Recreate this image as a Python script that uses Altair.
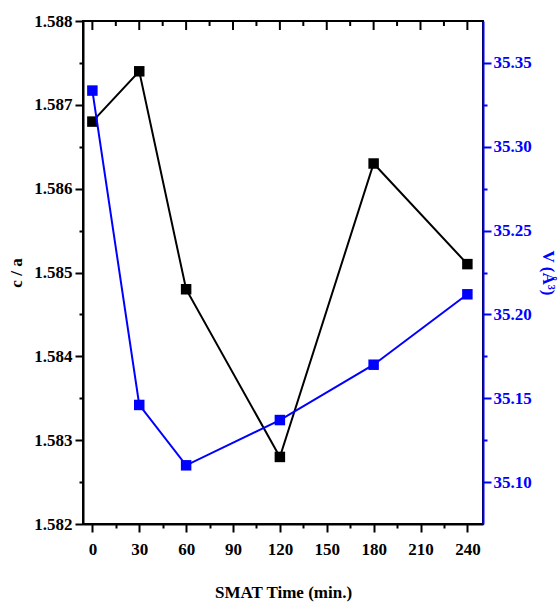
import altair as alt
import pandas as pd

# Data
time_min = [0, 30, 60, 120, 180, 240]
c_over_a = [1.5868, 1.5874, 1.5848, 1.5828, 1.5863, 1.5851]
volume = [35.3335, 35.146, 35.110, 35.137, 35.170, 35.212]

# Axis tick values
x_major = [0, 30, 60, 90, 120, 150, 180, 210, 240]
x_minor = [15, 45, 75, 105, 135, 165, 195, 225]
left_ticks = [1.582, 1.5825, 1.583, 1.5835, 1.584, 1.5845, 1.585, 1.5855,
              1.586, 1.5865, 1.587, 1.5875, 1.588]
right_ticks = [35.10, 35.125, 35.15, 35.175, 35.20, 35.225, 35.25, 35.275,
               35.30, 35.325, 35.35]

df = pd.DataFrame({"t": time_min, "ca": c_over_a, "v": volume})
df_xmaj = pd.DataFrame({"t": x_major})
df_xmin = pd.DataFrame({"t": x_minor})

FONT = "Liberation Serif"
BLUE = "#0000FF"

x_scale = alt.Scale(domain=[-6, 250], nice=False, zero=False)


def x_axis():
    return alt.Axis(
        orient="bottom",
        values=x_major + x_minor,
        labelExpr="datum.value % 30 == 0 ? datum.label : ''",
        tickSize={"condition": {"test": "datum.value % 30 != 0", "value": 4}, "value": 8},
        title="SMAT Time (min.)",
        titlePadding=27,
        labelPadding=9,
        grid=False,
    )


black = alt.Chart(df).mark_line(
    color="black", strokeWidth=2,
    point=alt.OverlayMarkDef(shape="square", size=110, filled=True, color="black", opacity=1),
).encode(
    x=alt.X("t:Q", scale=x_scale, axis=x_axis()),
    y=alt.Y(
        "ca:Q",
        scale=alt.Scale(domain=[1.582, 1.588], nice=False, zero=False),
        axis=alt.Axis(
            orient="left",
            values=left_ticks,
            labelExpr="round(datum.value*2000) % 2 == 0 ? format(datum.value, '.3f') : ''",
            tickSize={"condition": {"test": "round(datum.value*2000) % 2 == 1", "value": 4}, "value": 8},
            title="c / a",
            titlePadding=8,
            labelPadding=3,
            grid=False,
            domainColor="black",
            tickColor="black",
            labelColor="black",
            titleColor="black",
        ),
    ),
)

blue = alt.Chart(df).mark_line(
    color=BLUE, strokeWidth=2,
    point=alt.OverlayMarkDef(shape="square", size=110, filled=True, color=BLUE, opacity=1),
).encode(
    x=alt.X("t:Q", scale=x_scale, axis=x_axis()),
    y=alt.Y(
        "v:Q",
        scale=alt.Scale(domain=[35.075, 35.375], nice=False, zero=False),
        axis=alt.Axis(
            orient="right",
            values=right_ticks,
            labelExpr="round(datum.value*40) % 2 == 0 ? format(datum.value, '.2f') : ''",
            tickSize={"condition": {"test": "round(datum.value*40) % 2 == 1", "value": 4}, "value": 8},
            title="V (Å³)",
            titlePadding=7,
            labelPadding=2,
            grid=False,
            domainColor=BLUE,
            tickColor=BLUE,
            labelColor=BLUE,
            titleColor=BLUE,
        ),
    ),
)

top_major = alt.Chart(df_xmaj).mark_rule(color="black", strokeWidth=2).encode(
    x=alt.X("t:Q", scale=x_scale, axis=x_axis()),
    y=alt.value(0),
    y2=alt.value(9),
)
top_minor = alt.Chart(df_xmin).mark_rule(color="black", strokeWidth=2).encode(
    x=alt.X("t:Q", scale=x_scale, axis=x_axis()),
    y=alt.value(0),
    y2=alt.value(5),
)

chart = alt.layer(black, blue, top_major, top_minor).resolve_scale(
    y="independent"
).properties(
    width=400,
    height=503,
    autosize=alt.AutoSizeParams(type="none"),
    padding={"left": 83, "top": 21, "right": 75, "bottom": 81},
).configure_view(
    stroke="black", strokeWidth=2,
).configure_axis(
    labelFont=FONT,
    titleFont=FONT,
    labelFontSize=17,
    titleFontSize=17,
    labelFontWeight="bold",
    titleFontWeight="bold",
    domainWidth=2,
    tickWidth=2,
    domainColor="black",
    tickColor="black",
    labelColor="black",
    titleColor="black",
)

chart.save("out.html", embed_options={"renderer": "svg", "actions": False})
